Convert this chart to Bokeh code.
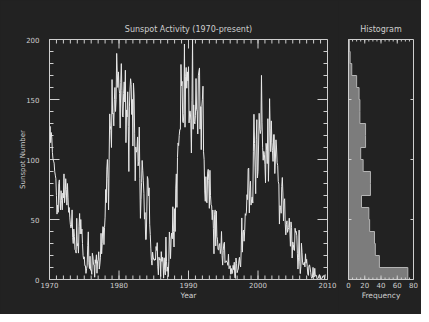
import numpy as np
from bokeh.plotting import figure
from bokeh.layouts import row
from bokeh.models import Range1d, SingleIntervalTicker, CustomJSTickFormatter
from bokeh.embed import file_html
from bokeh.resources import INLINE

# ---------------- data (monthly sunspot numbers) ----------------
start_year = 1970

ssn_1970s = [
    111.0, 127.6, 114.0, 122.5, 118.0, 106.0, 100.5, 98.6, 97.0, 90.0, 87.0, 84.0,
    70.0, 54.5, 62.0, 56.0, 80.0, 83.0, 66.0, 58.0, 74.0, 66.0, 58.0, 72.0,
    68.0, 88.0, 64.0, 70.0, 84.0, 75.0, 62.0, 80.0, 68.0, 56.0, 60.0, 52.0,
    46.0, 43.0, 44.0, 58.0, 35.0, 30.0, 42.0, 36.0, 25.0, 24.0, 22.0, 51.0,
    28.0, 30.0, 22.0, 44.0, 55.0, 38.0, 50.0, 38.0, 42.0, 30.0, 20.0, 17.0,
    18.9, 11.5, 11.5, 5.1, 9.0, 11.4, 28.2, 39.7, 13.9, 9.1, 19.4, 7.8,
    8.1, 4.3, 21.9, 18.8, 12.4, 12.2, 1.9, 16.4, 13.5, 20.6, 5.2, 15.3,
    16.4, 23.1, 8.7, 12.9, 18.6, 38.5, 21.4, 30.1, 44.0, 43.8, 29.1, 43.2,
    52.0, 75.0, 64.0, 92.0, 100.0, 84.0, 58.0, 100.0, 138.0, 128.0, 124.0, 110.0,
    166.6, 137.9, 138.5, 128.0, 150.0, 160.0, 140.0, 150.0, 188.4, 172.0, 160.0, 173.0,
]
ssn_1980s = [
    159.6, 155.0, 126.2, 164.1, 179.9, 157.3, 136.3, 135.4, 155.0, 164.7, 147.9, 174.4,
    114.0, 141.3, 135.5, 156.4, 127.5, 90.0, 143.8, 158.7, 167.3, 162.4, 137.5, 150.1,
    111.2, 163.6, 153.8, 122.0, 82.2, 110.4, 106.1, 107.6, 118.8, 94.7, 98.1, 127.0,
    84.3, 51.0, 66.5, 80.7, 99.2, 91.1, 82.2, 71.8, 50.3, 55.8, 33.3, 33.4,
    57.0, 85.8, 83.5, 69.7, 76.4, 46.1, 37.4, 25.5, 15.7, 12.0, 22.8, 18.7,
    16.5, 15.9, 17.2, 16.2, 27.5, 24.2, 30.7, 11.1, 3.9, 18.6, 16.2, 17.3,
    2.5, 23.2, 15.1, 18.5, 13.7, 1.1, 18.1, 7.4, 3.8, 35.4, 15.2, 6.8,
    10.4, 2.4, 14.7, 39.6, 33.0, 17.4, 33.9, 38.7, 33.9, 60.6, 39.9, 27.1,
    59.0, 40.0, 76.2, 88.0, 60.1, 101.8, 113.8, 111.6, 120.1, 125.1, 125.1, 179.2,
    161.3, 165.1, 131.4, 130.6, 138.5, 196.2, 126.9, 168.9, 176.7, 159.4, 173.0, 165.5,
]
ssn_1990s = [
    177.3, 130.5, 140.3, 140.3, 132.2, 105.4, 149.4, 200.3, 125.2, 145.5, 131.4, 129.7,
    136.9, 167.5, 141.9, 140.0, 121.3, 169.7, 173.7, 176.3, 125.3, 144.1, 108.2, 144.4,
    150.0, 161.1, 106.4, 99.8, 73.8, 65.2, 85.7, 64.5, 63.9, 88.7, 91.8, 82.6,
    59.3, 91.0, 69.8, 62.2, 61.3, 49.8, 57.9, 42.3, 21.4, 54.4, 58.0, 28.0,
    57.0, 35.8, 33.6, 25.0, 24.6, 28.8, 30.0, 21.5, 26.1, 40.0, 20.0, 12.0,
    24.2, 29.9, 31.1, 14.0, 14.5, 15.6, 14.5, 14.3, 11.8, 21.1, 9.0, 10.0,
    11.5, 4.4, 9.2, 4.8, 5.5, 11.8, 8.2, 14.4, 1.6, 0.9, 17.9, 13.3,
    5.7, 7.6, 8.7, 15.5, 18.5, 12.7, 10.4, 24.4, 51.3, 22.8, 39.0, 41.2,
    31.9, 40.3, 54.8, 53.4, 56.3, 70.7, 66.6, 92.2, 92.9, 55.5, 74.0, 81.9,
    62.0, 66.3, 68.8, 63.7, 106.4, 137.7, 113.5, 93.7, 71.5, 116.7, 133.2, 84.6,
]
ssn_2000s = [
    90.1, 112.9, 138.5, 125.5, 121.6, 124.9, 170.1, 130.5, 109.7, 99.4, 106.8, 104.4,
    95.6, 80.6, 113.5, 107.7, 96.6, 134.0, 81.8, 106.4, 150.7, 125.5, 106.5, 132.2,
    114.1, 107.4, 98.4, 120.7, 120.8, 88.3, 99.6, 116.4, 109.6, 97.5, 95.0, 81.6,
    79.5, 46.2, 61.5, 60.0, 55.2, 77.4, 85.0, 72.1, 48.8, 65.5, 67.3, 47.0,
    37.2, 46.0, 48.9, 39.3, 41.5, 43.2, 51.1, 40.9, 27.7, 48.0, 43.5, 17.9,
    31.3, 29.2, 24.5, 24.2, 42.7, 39.3, 40.1, 36.4, 21.9, 8.7, 18.0, 41.2,
    15.3, 4.9, 10.6, 30.2, 22.3, 13.9, 12.2, 12.9, 14.4, 10.5, 21.4, 13.6,
    16.8, 10.7, 4.5, 3.4, 11.7, 12.1, 9.7, 6.0, 2.4, 0.9, 1.7, 10.1,
    3.4, 2.1, 9.3, 2.9, 3.2, 3.4, 0.5, 0.5, 1.1, 2.9, 4.1, 0.8,
    1.5, 1.4, 0.7, 1.2, 2.9, 2.6, 3.5, 0.0, 4.2,
]

# histogram (bins of 10 sunspots, 0..200)
hist_bin_low = [0, 10, 20, 30, 40, 50, 60, 70, 80, 90, 100, 110, 120, 130, 140, 150, 160, 170, 180, 190]
hist_bin_width = 10
hist_counts = [73, 38, 33, 32, 26, 25, 16, 27, 27, 18, 15, 21, 21, 14, 14, 13, 10, 4, 2, 1]

year_range = (1970, 2010)
ssn_range = (0, 200)
freq_range = (0, 80)

# ---------------- styling ----------------
BG = "#222222"
FG = "#cfcfcf"
FONT = "DejaVu Sans"

ssn = ssn_1970s + ssn_1980s + ssn_1990s + ssn_2000s
t = start_year + np.arange(len(ssn)) / 12.0

blank = CustomJSTickFormatter(code="return ''")


def style_axis(ax, show_labels=True, label_size="7.5px"):
    ax.axis_line_color = FG
    ax.major_tick_line_color = None
    ax.minor_tick_line_color = None
    ax.major_tick_in = 0
    ax.major_tick_out = 0
    ax.minor_tick_in = 0
    ax.minor_tick_out = 0
    ax.major_label_text_color = FG
    ax.major_label_text_font = FONT
    ax.major_label_text_font_size = "7px"
    ax.axis_label_text_color = FG
    ax.axis_label_text_font = FONT
    ax.axis_label_text_font_size = label_size
    ax.axis_label_text_font_style = "normal"
    if not show_labels:
        ax.formatter = blank
        ax.major_label_standoff = 0


def style_title(p):
    p.title.align = "center"
    p.title.text_color = FG
    p.title.text_font = FONT
    p.title.text_font_size = "8px"
    p.title.text_font_style = "normal"
    p.title.standoff = 11


def inward_ticks(p, xs, ys, x0, x1, y0, y1, xlen, ylen):
    """Tick marks pointing into the frame on all four sides."""
    xs = np.asarray(xs, float)
    ys = np.asarray(ys, float)
    if len(xs):
        p.ray(x=xs, y=y0, length=xlen, length_units="screen", angle=np.pi / 2, line_color=FG, line_width=1)
        p.ray(x=xs, y=y1, length=xlen, length_units="screen", angle=-np.pi / 2, line_color=FG, line_width=1)
    if len(ys):
        p.ray(x=x0, y=ys, length=ylen, length_units="screen", angle=0, line_color=FG, line_width=1)
        p.ray(x=x1, y=ys, length=ylen, length_units="screen", angle=np.pi, line_color=FG, line_width=1)


# ---------------- main plot ----------------
p1 = figure(width=338, height=314,
            x_range=Range1d(*year_range), y_range=Range1d(*ssn_range),
            output_backend="svg", toolbar_location=None,
            min_border_left=49, min_border_right=11, min_border_top=39, min_border_bottom=35,
            background_fill_color=BG, border_fill_color=BG, outline_line_color=FG,
            title="Sunspot Activity (1970-present)",
            x_axis_label="Year", y_axis_label="Sunspot Number")
p1.grid.visible = False
style_title(p1)

p1.xaxis.ticker = SingleIntervalTicker(interval=10, num_minor_ticks=10)
p1.yaxis.ticker = SingleIntervalTicker(interval=50, num_minor_ticks=5)
for ax in p1.xaxis:
    style_axis(ax)
    ax.major_label_standoff = 2
    ax.axis_label_standoff = 0
for ax in p1.yaxis:
    style_axis(ax, label_size="7px")
    ax.major_label_standoff = 10
    ax.axis_label_standoff = -4

yr_minor = np.arange(year_range[0], year_range[1] + 1, 1)
yr_major = np.arange(year_range[0], year_range[1] + 1, 10)
ssn_minor = np.arange(ssn_range[0], ssn_range[1] + 1, 10)
ssn_major = np.arange(ssn_range[0], ssn_range[1] + 1, 50)
inward_ticks(p1, yr_minor, ssn_minor, *year_range, *ssn_range, 4, 4)
inward_ticks(p1, yr_major, ssn_major, *year_range, *ssn_range, 9, 10)

p1.line(t, ssn, line_color="#e8e8e8", line_width=1)

# ---------------- histogram ----------------
p2 = figure(width=83, height=314,
            x_range=Range1d(*freq_range), y_range=Range1d(*ssn_range),
            output_backend="svg", toolbar_location=None,
            min_border_left=10, min_border_right=8, min_border_top=39, min_border_bottom=35,
            background_fill_color=BG, border_fill_color=BG, outline_line_color=FG,
            title="Histogram", x_axis_label="Frequency")
p2.grid.visible = False
style_title(p2)

p2.xaxis.ticker = SingleIntervalTicker(interval=20, num_minor_ticks=4)
for ax in p2.xaxis:
    style_axis(ax)
    ax.major_label_standoff = 2
    ax.axis_label_standoff = 0
p2.yaxis.ticker = SingleIntervalTicker(interval=50, num_minor_ticks=0)
for ax in p2.yaxis:
    style_axis(ax, show_labels=False)

lows = np.array(hist_bin_low, dtype=float)
highs = lows + hist_bin_width
counts = np.array(hist_counts, dtype=float)

# step outline of the histogram, filled as one polygon
sx, sy = [0.0], [lows[0]]
for lo, hi, c in zip(lows, highs, counts):
    sx += [c, c]
    sy += [lo, hi]
sx.append(0.0)
sy.append(highs[-1])
p2.patch(sx, sy, fill_color="#7c7c7c", line_color="#b4b4b4", line_width=1)

fr_minor = np.arange(freq_range[0], freq_range[1] + 1, 5)
fr_major = np.arange(freq_range[0], freq_range[1] + 1, 20)
inward_ticks(p2, fr_minor, [], *freq_range, *ssn_range, 2, 0)
inward_ticks(p2, fr_major, ssn_major[1:-1], *freq_range, *ssn_range, 4, 3)

layout = row(p1, p2, styles={"background-color": BG})
open("out.html", "w").write(file_html(layout, INLINE))
